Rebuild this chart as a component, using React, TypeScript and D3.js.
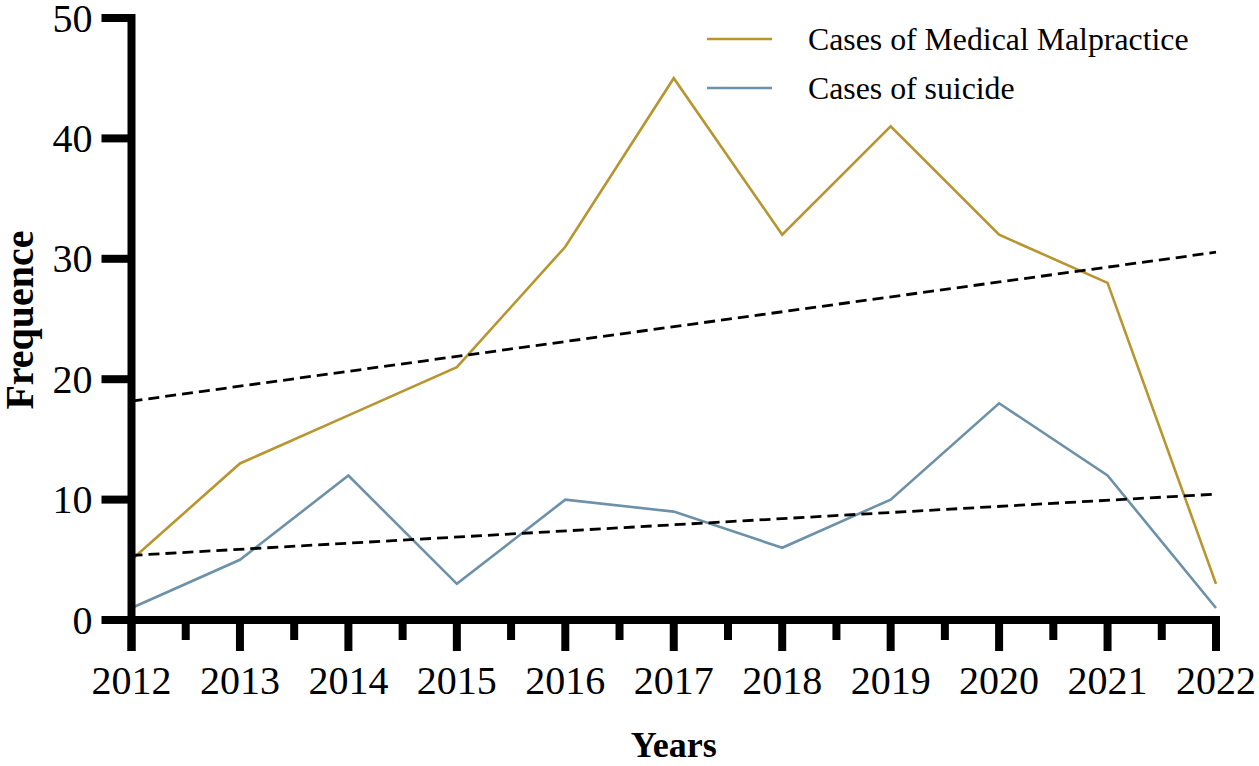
import * as d3 from "d3";
import { useEffect, useRef } from "react";

const years = [2012, 2013, 2014, 2015, 2016, 2017, 2018, 2019, 2020, 2021, 2022];
const malpractice = [5, 13, 17, 21, 31, 45, 32, 41, 32, 28, 3];
const suicide = [1, 5, 12, 3, 10, 9, 6, 10, 18, 12, 1];
const yTicks = [0, 10, 20, 30, 40, 50];

const seriesNames = ["Cases of Medical Malpractice", "Cases of suicide"];
const seriesColors = ["#B8952F", "#6C91A8"];

// least squares fit, drawn as the dashed trend lines
function fit(xs: number[], ys: number[]) {
  const mx = d3.mean(xs) as number;
  const my = d3.mean(ys) as number;
  let sxy = 0;
  let sxx = 0;
  xs.forEach((x, i) => {
    sxy += (x - mx) * (ys[i] - my);
    sxx += (x - mx) * (x - mx);
  });
  const slope = sxy / sxx;
  return (x: number) => my + slope * (x - mx);
}

export default function App() {
  const ref = useRef<SVGSVGElement | null>(null);

  useEffect(() => {
    const svg = d3.select(ref.current);
    svg.selectAll("*").remove();

    const W = 1259;
    const H = 766;
    const font = "'Liberation Serif', 'Times New Roman', serif";

    svg.attr("width", W).attr("height", H);

    const x = d3.scaleLinear().domain([2012, 2022]).range([131.5, 1216]);
    const y = d3.scaleLinear().domain([0, 50]).range([620, 18]);

    const g = svg.append("g");

    // data lines
    const series = [malpractice, suicide];
    series.forEach((vals, i) => {
      const line = d3
        .line<number>()
        .x((_, j) => x(years[j]))
        .y((d) => y(d));
      g.append("path")
        .datum(vals)
        .attr("fill", "none")
        .attr("stroke", seriesColors[i])
        .attr("stroke-width", 2.6)
        .attr("stroke-linejoin", "miter")
        .attr("d", line);
    });

    // trend lines
    series.forEach((vals) => {
      const f = fit(years, vals);
      const ends = [2012, 2022];
      g.append("path")
        .datum(ends)
        .attr("fill", "none")
        .attr("stroke", "#000")
        .attr("stroke-width", 2.8)
        .attr("stroke-dasharray", "11,6")
        .attr(
          "d",
          d3
            .line<number>()
            .x((d) => x(d))
            .y((d) => y(f(d)))
        );
    });

    // axes
    const ax = svg.append("g").attr("stroke", "#000");
    ax.append("line")
      .attr("x1", x(2012))
      .attr("x2", x(2012))
      .attr("y1", y(50) - 4)
      .attr("y2", y(0) + 31)
      .attr("stroke-width", 8);
    ax.append("line")
      .attr("x1", x(2012) - 4)
      .attr("x2", x(2022) + 4)
      .attr("y1", y(0))
      .attr("y2", y(0))
      .attr("stroke-width", 8);

    yTicks.forEach((t) => {
      ax.append("line")
        .attr("x1", x(2012) - 30)
        .attr("x2", x(2012))
        .attr("y1", y(t))
        .attr("y2", y(t))
        .attr("stroke-width", 8);
      svg.append("text")
        .attr("x", x(2012) - 39)
        .attr("y", y(t))
        .attr("dy", "0.34em")
        .attr("text-anchor", "end")
        .style("font-family", font)
        .style("font-size", "40px")
        .text(t);
    });

    years.forEach((yr, i) => {
      ax.append("line")
        .attr("x1", x(yr))
        .attr("x2", x(yr))
        .attr("y1", y(0))
        .attr("y2", y(0) + 31)
        .attr("stroke-width", 8);
      if (i < years.length - 1) {
        const mid = x(yr + 0.5);
        ax.append("line")
          .attr("x1", mid)
          .attr("x2", mid)
          .attr("y1", y(0))
          .attr("y2", y(0) + 20)
          .attr("stroke-width", 8);
      }
      svg.append("text")
        .attr("x", x(yr))
        .attr("y", 694)
        .attr("text-anchor", "middle")
        .style("font-family", font)
        .style("font-size", "40px")
        .text(yr);
    });

    // axis titles
    svg.append("text")
      .attr("x", (x(2012) + x(2022)) / 2)
      .attr("y", 757)
      .attr("text-anchor", "middle")
      .style("font-family", font)
      .style("font-size", "36px")
      .style("font-weight", "bold")
      .text("Years");

    svg.append("text")
      .attr("transform", "translate(33,320) rotate(-90)")
      .attr("text-anchor", "middle")
      .style("font-family", font)
      .style("font-size", "40px")
      .style("font-weight", "bold")
      .text("Frequence");

    // legend
    seriesNames.forEach((name, i) => {
      const ly = 39 + i * 49;
      svg.append("line")
        .attr("x1", 707)
        .attr("x2", 772)
        .attr("y1", ly)
        .attr("y2", ly)
        .attr("stroke", seriesColors[i])
        .attr("stroke-width", 2.6);
      svg.append("text")
        .attr("x", 808)
        .attr("y", ly + 11)
        .style("font-family", font)
        .style("font-size", "31.8px")
        .text(name);
    });
  }, []);

  return (
    <svg
      ref={ref}
      style={{ position: "absolute", left: 0, top: 0, background: "#fff" }}
    ></svg>
  );
}
